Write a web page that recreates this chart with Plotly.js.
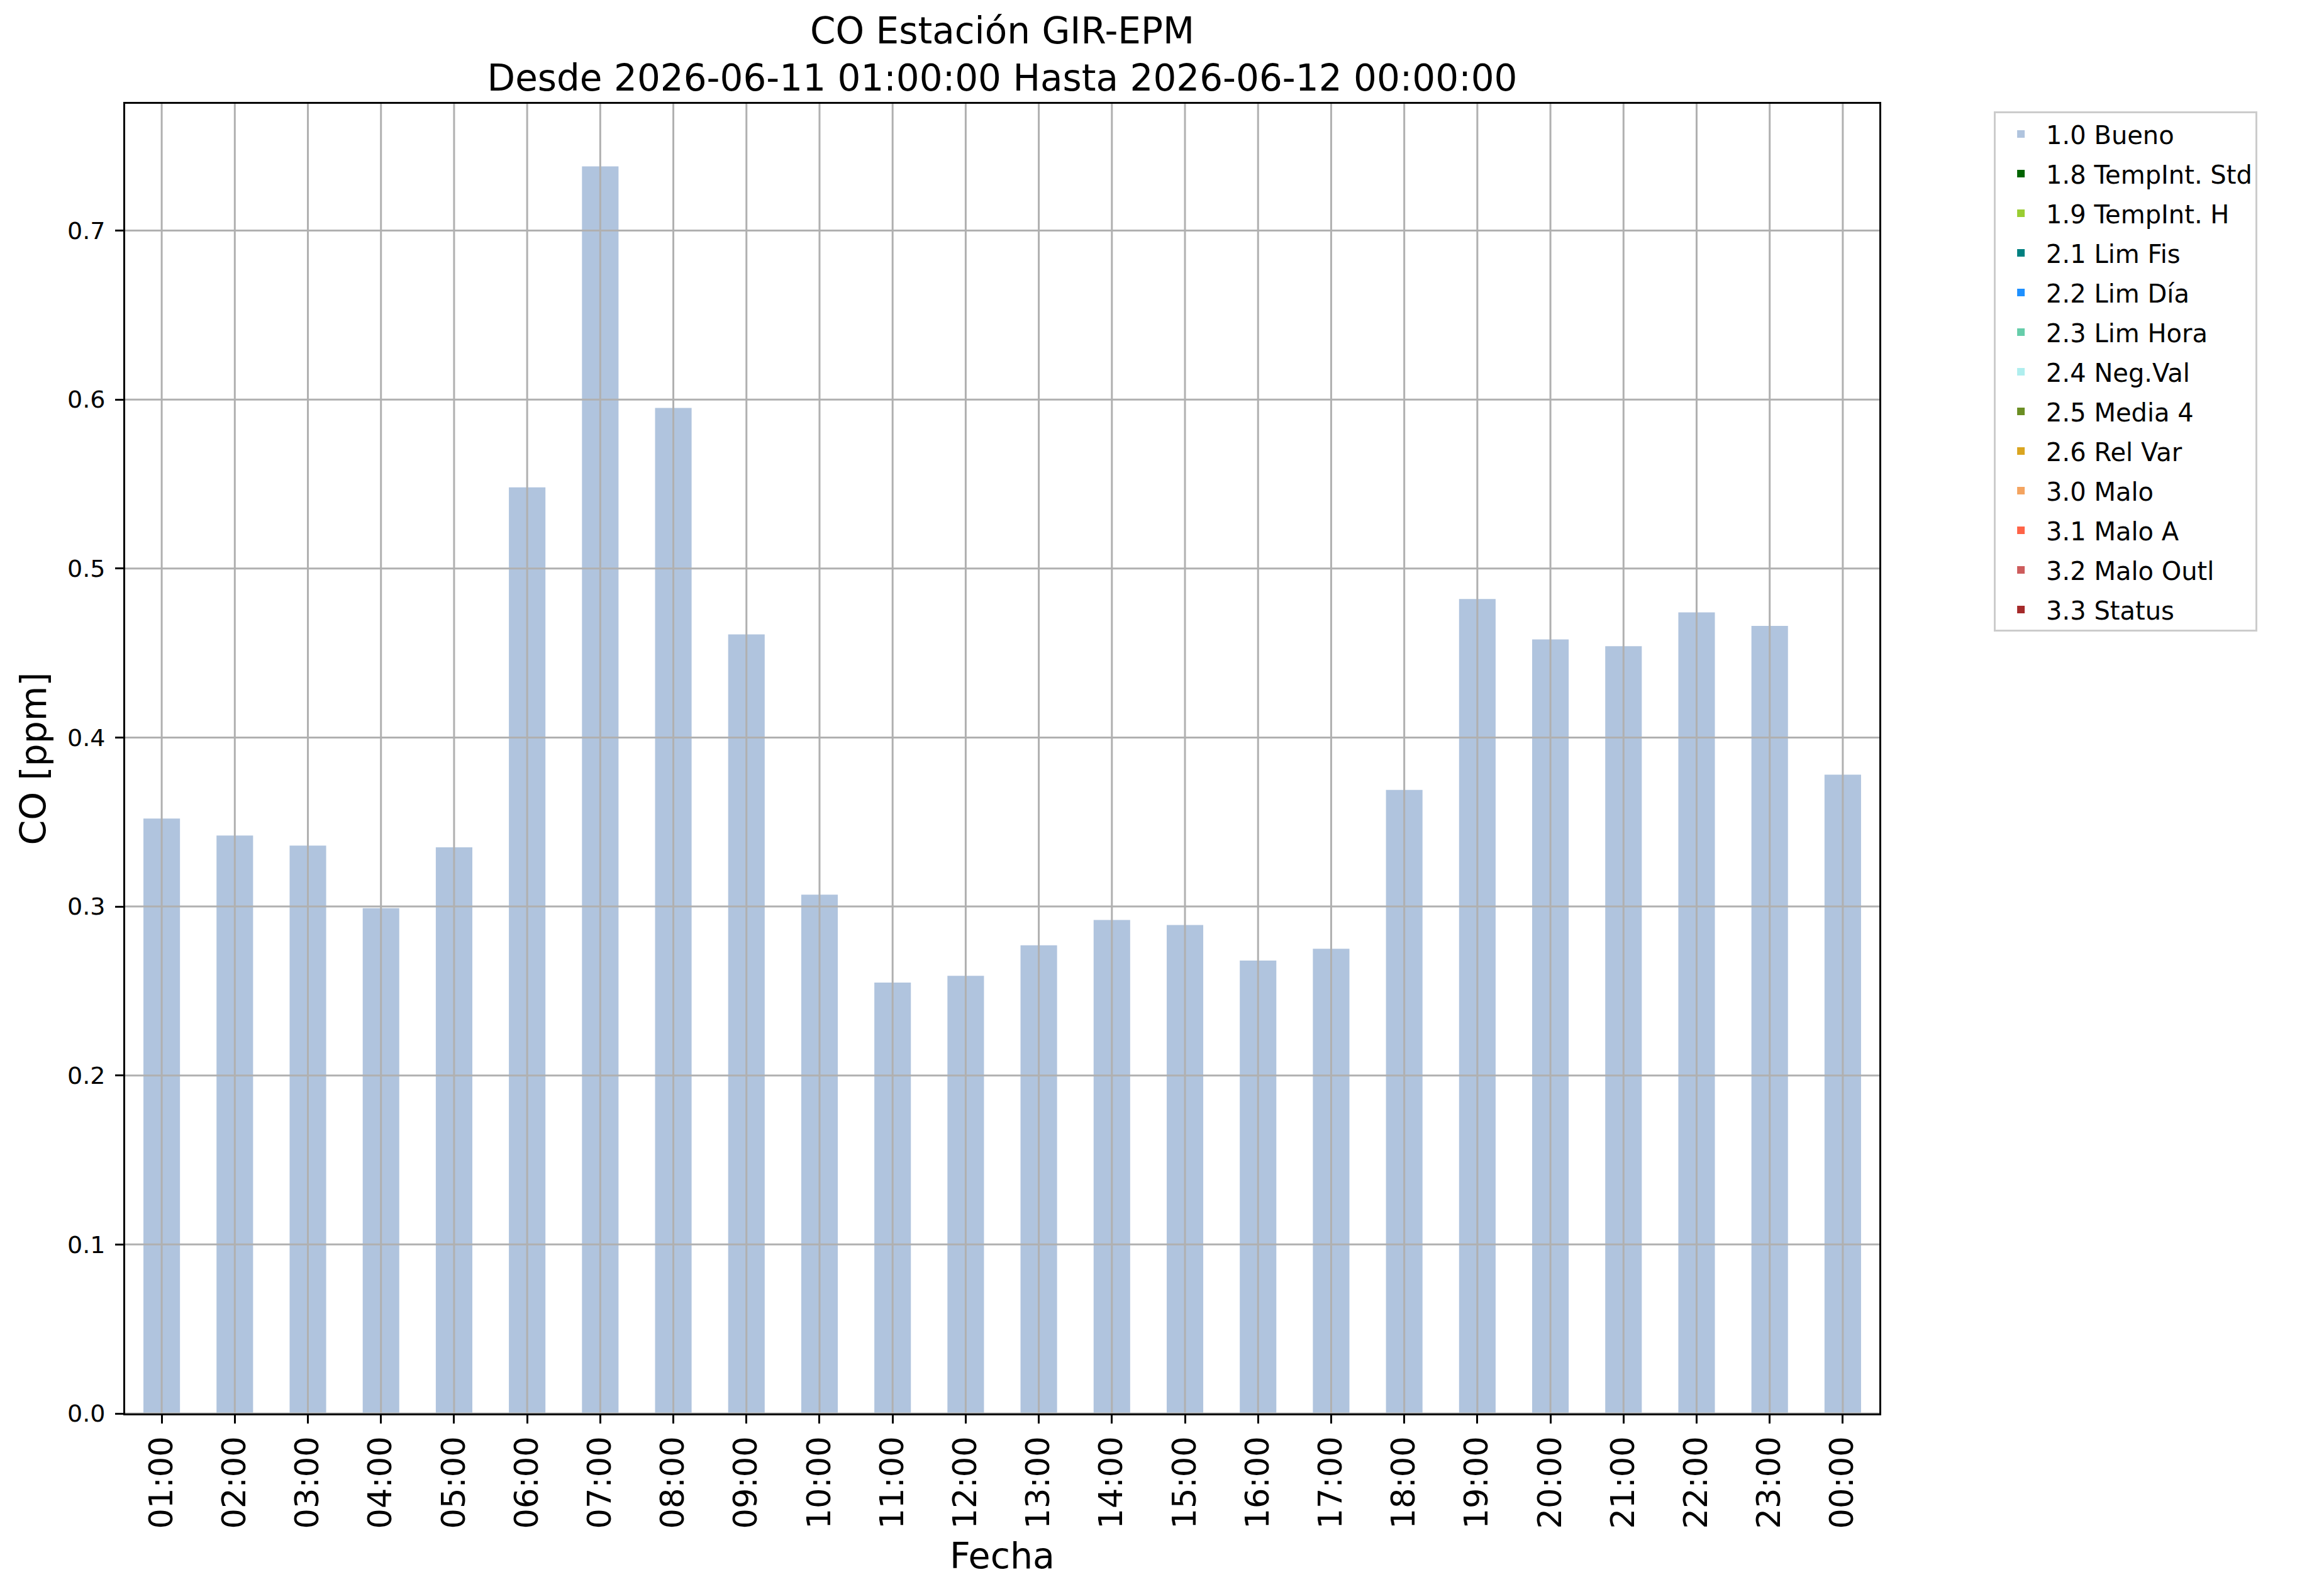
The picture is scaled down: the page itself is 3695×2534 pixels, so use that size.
<!DOCTYPE html>
<html>
<head>
<meta charset="utf-8">
<script src="https://cdn.plot.ly/plotly-3.0.1.min.js"></script>
<style>
  html, body { margin: 0; padding: 0; background: #fff; }
  #grafica { width: 3695px; height: 2534px; }
</style>
</head>
<body>
<div id="grafica"></div>
<script>
// Horas del periodo (etiquetas del eje x)
var horas = ['01:00', '02:00', '03:00', '04:00', '05:00', '06:00', '07:00', '08:00',
    '09:00', '10:00', '11:00', '12:00', '13:00', '14:00', '15:00', '16:00',
    '17:00', '18:00', '19:00', '20:00', '21:00', '22:00', '23:00', '00:00'];

// CO [ppm] con bandera 1.0 Bueno
var bueno = [0.352, 0.342, 0.336, 0.299, 0.335, 0.548, 0.738, 0.595,
    0.461, 0.307, 0.255, 0.259, 0.277, 0.292, 0.289, 0.268,
    0.275, 0.369, 0.482, 0.458, 0.454, 0.474, 0.466, 0.378];

// El resto de banderas no tiene datos en este periodo
var sinDatos = horas.map(function () { return 0; });

var banderas = ['1.0 Bueno', '1.8 TempInt. Std', '1.9 TempInt. H', '2.1 Lim Fis',
    '2.2 Lim Día', '2.3 Lim Hora', '2.4 Neg.Val', '2.5 Media 4', '2.6 Rel Var',
    '3.0 Malo', '3.1 Malo A', '3.2 Malo Outl', '3.3 Status'];

var colores = ['#B0C4DE', '#006400', '#9ACD32', '#008080', '#1E90FF', '#66CDAA',
    '#AFEEEE', '#6B8E23', '#DAA520', '#F4A460', '#FF6347', '#CD5C5C', '#A52A2A'];

var yTicks = [0, 0.1, 0.2, 0.3, 0.4, 0.5, 0.6, 0.7];

var fuente = 'DejaVu Sans, Verdana, sans-serif';

var trazas = banderas.map(function (nombre, i) {
    return {
        type: 'bar',
        name: nombre,
        legendgroup: nombre,
        x: horas,
        y: i === 0 ? bueno : sinDatos,
        width: 0.5,
        marker: { color: colores[i], line: { width: 0 } },
        hoverinfo: 'x+y+name'
    };
});

// matplotlib dibuja la rejilla encima de las barras
var rejilla = [];
horas.forEach(function (h) {
    rejilla.push({
        type: 'line', layer: 'above', xref: 'x', yref: 'paper',
        x0: h, x1: h, y0: 0, y1: 1,
        line: { color: '#b0b0b0', width: 3 }
    });
});
yTicks.forEach(function (v) {
    rejilla.push({
        type: 'line', layer: 'above', xref: 'paper', yref: 'y',
        x0: 0, x1: 1, y0: v, y1: v,
        line: { color: '#b0b0b0', width: 3 }
    });
});

var layout = {
    width: 3695,
    height: 2534,
    paper_bgcolor: '#ffffff',
    plot_bgcolor: '#ffffff',
    font: { family: fuente, color: '#000000', size: 38 },
    margin: { l: 199, r: 707, t: 165, b: 287, pad: 0 },
    barmode: 'overlay',
    showlegend: true,
    title: {
        text: 'CO Estación GIR-EPM<br>Desde 2026-06-11 01:00:00 Hasta 2026-06-12 00:00:00',
        font: { family: fuente, size: 58, color: '#000000' },
        xref: 'paper', x: 0.5, xanchor: 'center',
        yref: 'container', y: 1 - 69 / 2534, yanchor: 'top'
    },
    xaxis: {
        type: 'category',
        range: [-0.5, 23.5],
        tickangle: -90,
        tickfont: { family: fuente, size: 51, color: '#000000' },
        ticks: 'outside', ticklen: 13, tickwidth: 3, tickcolor: '#000000',
        showgrid: false,
        showline: true, linecolor: '#000000', linewidth: 3, mirror: true,
        zeroline: false,
        automargin: false,
        title: { text: 'Fecha', font: { family: fuente, size: 57, color: '#000000' }, standoff: 24 }
    },
    yaxis: {
        range: [0, 0.775],
        tickvals: yTicks,
        tickformat: '.1f',
        tickfont: { family: fuente, size: 38, color: '#000000' },
        ticks: 'outside', ticklen: 13, tickwidth: 3, tickcolor: '#000000',
        ticklabelstandoff: 8,
        showgrid: false,
        showline: true, linecolor: '#000000', linewidth: 3, mirror: true,
        zeroline: false,
        automargin: false,
        title: { text: 'CO [ppm]', font: { family: fuente, size: 57, color: '#000000' }, standoff: 16 }
    },
    legend: {
        x: 1.0653, y: 0.994, xanchor: 'left', yanchor: 'top',
        xref: 'paper', yref: 'paper',
        traceorder: 'grouped',
        tracegroupgap: 8,
        itemwidth: 70,
        bgcolor: '#ffffff',
        bordercolor: '#cccccc',
        borderwidth: 3,
        font: { family: fuente, size: 40, color: '#000000' }
    },
    shapes: rejilla
};

Plotly.newPlot('grafica', trazas, layout, { displayModeBar: false, staticPlot: true });
</script>
</body>
</html>
